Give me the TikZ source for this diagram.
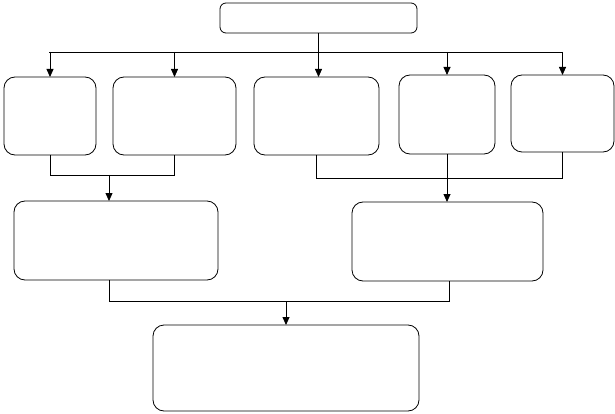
\documentclass[tikz,border=0pt]{standalone}
\usetikzlibrary{arrows.meta}
\begin{document}
\begin{tikzpicture}[x=1pt,y=-1pt,
  box/.style={draw, rounded corners=11pt, line width=0.8pt, inner sep=0pt, outer sep=0pt, anchor=north west},
  con/.style={line width=0.8pt},
  arr/.style={con, -{Triangle[length=8pt,width=7pt]}}]
\useasboundingbox (0,0) rectangle (615,414);
\node[box, rounded corners=6pt, minimum width=197pt, minimum height=30pt] (top) at (220,3) {};
\node[box, minimum width=92pt, minimum height=78pt] (b1) at (4,77) {};
\node[box, minimum width=123pt, minimum height=78pt] (b2) at (113,77) {};
\node[box, minimum width=125pt, minimum height=78pt] (b3) at (254,77) {};
\node[box, minimum width=96pt, minimum height=79pt] (b4) at (399,75) {};
\node[box, minimum width=103pt, minimum height=77pt] (b5) at (511,75) {};
\node[box, minimum width=204pt, minimum height=79pt] (b6) at (14,201) {};
\node[box, minimum width=191pt, minimum height=79pt] (b7) at (352,202) {};
\node[box, minimum width=266pt, minimum height=86pt] (b8) at (153,325) {};
% top distribution
\coordinate (hl) at (49,52);
\coordinate (hr) at (563,52);
\draw[con] (hl) -- (hr);
\draw[arr] (top.south) -- (top.south |- b3.north);
\draw[arr] (b1.north |- hl) -- (b1.north);
\draw[arr] (b2.north |- hl) -- (b2.north);
\draw[arr] (b4.north |- hl) -- (b4.north);
\draw[arr] (b5.north |- hl) -- (b5.north);
% left merge
\coordinate (m1) at (109,175);
\draw[con] (b1.south) -- (b1.south |- m1) -| (b2.south);
\draw[arr] (m1) -- (m1 |- b6.north);
% right merge
\coordinate (m2) at (447,178);
\draw[con] (b3.south) -- (b3.south |- m2) -| (b5.south);
\draw[arr] (b4.south) -- (b4.south |- b7.north);
% bottom merge
\coordinate (c6) at (109,301);
\coordinate (c7) at (449,301);
\coordinate (m3) at (286,301);
\draw[con] (c6 |- b6.south) -- (c6) -- (c7) -- (c7 |- b7.south);
\draw[arr] (m3) -- (m3 |- b8.north);
\end{tikzpicture}
\end{document}
